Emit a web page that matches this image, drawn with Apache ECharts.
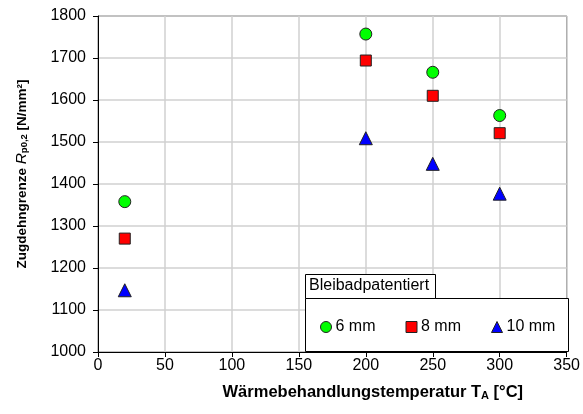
<!DOCTYPE html>
<html>
<head>
    <meta charset="utf-8">
    <title>Zugdehngrenze</title>
    <script src="https://cdn.jsdelivr.net/npm/echarts@6/dist/echarts.min.js"></script>
    <style>
        html, body { margin: 0; padding: 0; background: #fff; }
        #main { width: 583px; height: 414px; }
    </style>
</head>
<body>
<div id="main"></div>
<script type="text/javascript">
    // Daten
    var temps = [20, 200, 250, 300];
    var rp_6mm = [1358, 1757, 1666, 1563];
    var rp_8mm = [1270, 1694, 1610, 1521];
    var rp_10mm = [1147, 1509, 1448, 1377];
    var seriesNames = ['6 mm', '8 mm', '10 mm'];

    function pairs(ys) {
        var out = [];
        for (var i = 0; i < temps.length; i++) {
            out.push([temps[i], ys[i]]);
        }
        return out;
    }

    var font = 'Liberation Sans, Arial, sans-serif';
    var myChart = echarts.init(document.getElementById('main'));

    var option = {
        animation: false,
        textStyle: { fontFamily: font },
        grid: {
            left: 98, top: 16, right: 14, bottom: 62,
            show: true, borderColor: '#333', borderWidth: 1
        },
        legend: {
            data: seriesNames,
            left: 315, top: 314,
            z: 60,
            itemGap: 30,
            itemWidth: 11, itemHeight: 11,
            itemStyle: { borderColor: '#222', borderWidth: 1 },
            textStyle: { fontSize: 16, color: '#000', fontFamily: font, padding: [0, 0, 0, -1] },
            selectedMode: false
        },
        xAxis: {
            type: 'value',
            min: 0, max: 350, interval: 50,
            name: '{b|Wärmebehandlungstemperatur T}{s|A}{b| [°C]}',
            nameLocation: 'middle',
            nameGap: 32,
            nameTextStyle: {
                padding: [0, 0, 0, 81],
                rich: {
                    b: { fontSize: 16.5, fontWeight: 'bold', color: '#000', fontFamily: font },
                    s: { fontSize: 11, fontWeight: 'bold', color: '#000', fontFamily: font, padding: [6, 0, 0, 0] }
                }
            },
            axisLine: { show: true, lineStyle: { color: '#000', width: 1 } },
            axisTick: { show: true, length: 5, lineStyle: { color: '#000' } },
            axisLabel: { fontSize: 16, color: '#000', margin: 6 },
            splitLine: { show: true, lineStyle: { color: '#d0d0d0', width: 1.5 } }
        },
        yAxis: {
            type: 'value',
            min: 1000, max: 1800, interval: 100,
            name: '{b|Zugdehngrenze }{i|R}{s|p0,2}{b| [N/mm²]}',
            nameLocation: 'middle',
            nameGap: 68,
            nameRotate: 90,
            nameTextStyle: {
                padding: [0, 0, 0, 20],
                rich: {
                    b: { fontSize: 13.5, fontWeight: 'bold', color: '#000', fontFamily: font },
                    i: { fontSize: 15.5, fontStyle: 'italic', color: '#000', fontFamily: font },
                    s: { fontSize: 9.5, fontWeight: 'bold', color: '#000', fontFamily: font, padding: [5, 0, 0, 0] }
                }
            },
            axisLine: { show: true, lineStyle: { color: '#000', width: 1 } },
            axisTick: { show: true, length: 5, lineStyle: { color: '#000' } },
            axisLabel: {
                fontSize: 16, color: '#000', margin: 12,
                formatter: function (v) { return String(v); }
            },
            splitLine: { show: true, lineStyle: { color: '#d0d0d0', width: 1.5 } }
        },
        graphic: [
            {
                type: 'rect', z: 50,
                shape: { x: 305.5, y: 298.5, width: 263, height: 53 },
                style: { fill: '#fff', stroke: '#000', lineWidth: 1 }
            },
            {
                type: 'rect', z: 50,
                shape: { x: 305.5, y: 274.5, width: 130, height: 24 },
                style: { fill: '#fff', stroke: '#000', lineWidth: 1 }
            },
            {
                type: 'text', z: 51,
                left: 309, top: 278,
                style: { text: 'Bleibadpatentiert', font: '16px ' + font, fill: '#000' }
            }
        ],
        series: [
            {
                name: seriesNames[0], type: 'scatter', data: pairs(rp_6mm),
                symbol: 'circle', symbolSize: 12,
                itemStyle: { color: '#00ff00', borderColor: '#222', borderWidth: 1, opacity: 1 }
            },
            {
                name: seriesNames[1], type: 'scatter', data: pairs(rp_8mm),
                symbol: 'rect', symbolSize: 11,
                itemStyle: { color: '#ff0000', borderColor: '#222', borderWidth: 1, opacity: 1 }
            },
            {
                name: seriesNames[2], type: 'scatter', data: pairs(rp_10mm),
                symbol: 'triangle', symbolSize: 13,
                itemStyle: { color: '#0000ff', borderColor: '#222', borderWidth: 1, opacity: 1 }
            }
        ]
    };

    myChart.setOption(option);
</script>
</body>
</html>
